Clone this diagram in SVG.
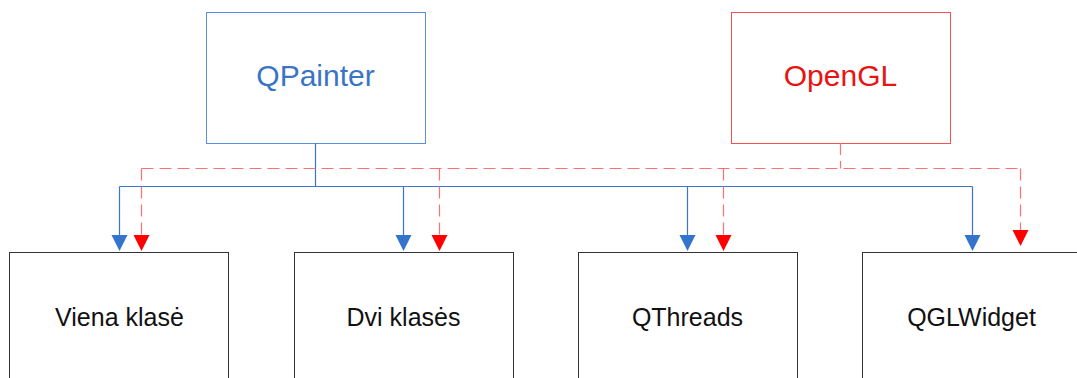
<svg xmlns="http://www.w3.org/2000/svg" width="1077" height="378" viewBox="0 0 1077 378">
  <style>
    .box { fill: #ffffff; stroke-width: 1; }
    .src-blue { stroke: #5a8fdb; }
    .src-red { stroke: #f65050; }
    .target { stroke: #333333; }
    .title { font-family: "Liberation Sans", Arial, sans-serif; font-size: 30px; text-anchor: middle; }
    .label { font-family: "Liberation Sans", Arial, sans-serif; font-size: 25px; text-anchor: middle; fill: #111111; }
    .blue-line { fill: none; stroke: #3b76cc; stroke-width: 1.2; }
    .red-line { fill: none; stroke: #ff7070; stroke-width: 1.2; stroke-dasharray: 12 6; }
    .blue-head { fill: #3574cc; }
    .red-head { fill: #ff0000; }
  </style>

  <!-- source nodes -->
  <g id="qpainter">
    <rect class="box src-blue" x="206.5" y="12.5" width="219" height="131"/>
    <text class="title" x="315.5" y="86" fill="#3a74c6">QPainter</text>
  </g>
  <g id="opengl">
    <rect class="box src-red" x="731.5" y="12.5" width="219" height="131"/>
    <text class="title" x="840.5" y="86" fill="#e81414">OpenGL</text>
  </g>

  <!-- target nodes -->
  <g id="viena-klase">
    <rect class="box target" x="9.5" y="252.5" width="219" height="140"/>
    <text class="label" x="119.5" y="326">Viena klasė</text>
  </g>
  <g id="dvi-klases">
    <rect class="box target" x="294.5" y="252.5" width="219" height="140"/>
    <text class="label" x="403.5" y="326">Dvi klasės</text>
  </g>
  <g id="qthreads">
    <rect class="box target" x="578.5" y="252.5" width="219" height="140"/>
    <text class="label" x="687.5" y="326">QThreads</text>
  </g>
  <g id="qglwidget">
    <rect class="box target" x="862.5" y="252.5" width="219" height="140"/>
    <text class="label" x="971.5" y="326">QGLWidget</text>
  </g>

  <!-- connectors -->
  <g id="connectors">
    <!-- QPainter bus (solid blue) -->
    <path class="blue-line" d="M315.5 143 V186.5 M119.5 186.5 H972.5 M119.5 186.5 V236 M403.5 186.5 V236 M687.5 186.5 V236 M972.5 186.5 V236"/>
    <!-- OpenGL bus (dashed red) -->
    <path class="red-line" d="M840.5 143 V168.5 M141.5 168.5 H1020.5"/>
    <path class="red-line" d="M141.5 168.5 V236 M439.5 168.5 V236 M723.5 168.5 V236 M1020.5 168.5 V231"/>
    <!-- arrowheads -->
    <polygon class="blue-head" points="111.5,235 127.5,235 119.5,251"/>
    <polygon class="blue-head" points="395.5,235 411.5,235 403.5,251"/>
    <polygon class="blue-head" points="679.5,235 695.5,235 687.5,251"/>
    <polygon class="blue-head" points="964.5,235 980.5,235 972.5,251"/>
    <polygon class="red-head" points="133.5,235 149.5,235 141.5,251"/>
    <polygon class="red-head" points="431.5,235 447.5,235 439.5,251"/>
    <polygon class="red-head" points="715.5,235 731.5,235 723.5,251"/>
    <polygon class="red-head" points="1012.5,230 1028.5,230 1020.5,246"/>
  </g>
</svg>
